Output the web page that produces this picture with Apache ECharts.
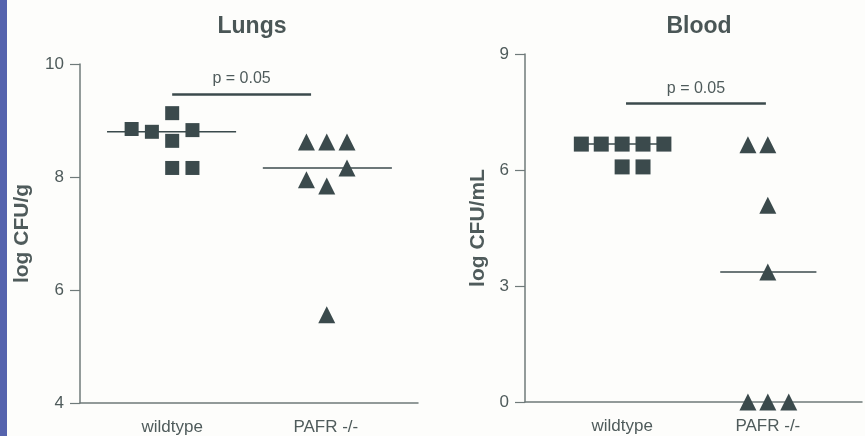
<!DOCTYPE html>
<html><head><meta charset="utf-8">
<script src="https://cdn.jsdelivr.net/npm/echarts@6/dist/echarts.min.js"></script>
<style>html,body{margin:0;padding:0;background:#fdfdfb;}#c{width:865px;height:436px;}
#strip{position:absolute;left:0;top:0;width:7px;height:436px;background:#5563ad;z-index:10;}</style>
</head><body><div id="strip"></div><div id="c"></div>
<script>
// category label positions (x units per panel)
const groupNames = ['wildtype', 'PAFR -/-'];
const lungsGroupX = [3, 8];
const bloodGroupX = [2, 5];

// Lungs: [x, log CFU/g]
const lungsWildtype = [[1.68, 8.85], [2.34, 8.80], [3.0, 9.13], [3.0, 8.64], [3.66, 8.83], [3.0, 8.16], [3.66, 8.16]];
const lungsPafr = [[7.37, 8.62], [8.03, 8.62], [8.69, 8.62], [8.69, 8.16], [7.37, 7.95], [8.03, 7.84], [8.03, 5.56]];
const lungsWildMedian = [[0.88, 8.80], [5.08, 8.80]];
const lungsPafrMedian = [[5.95, 8.16], [10.15, 8.16]];
const lungsPBar = [[3.0, 9.47], [7.52, 9.47]];

// Blood: [x, log CFU/mL]
const bloodWildtype = [[1.16, 6.67], [1.57, 6.67], [2.0, 6.67], [2.43, 6.67], [2.86, 6.67], [2.0, 6.08], [2.43, 6.08]];
const bloodPafr = [[4.59, 6.65], [5.0, 6.65], [5.0, 5.09], [5.0, 3.36], [4.59, 0], [5.0, 0], [5.43, 0]];
const bloodWildMedian = [[1.08, 6.67], [2.96, 6.67]];
const bloodPafrMedian = [[4.02, 3.36], [6.0, 3.36]];
const bloodPBar = [[2.08, 7.73], [4.96, 7.73]];

const pText = 'p = 0.05';
const lungsTicks = {min: 4, max: 10, interval: 2};
const bloodTicks = {min: 0, max: 9, interval: 3};

const ink = '#3b4a4c';
const txt = '#4f5b5b';
const axisCol = '#6f7a7a';
const font = 'Liberation Sans, Arial, sans-serif';

function xAxis(idx, max, groupX, interval) {
  return {
    type: 'value', gridIndex: idx, min: 0, max: max, interval: interval,
    axisLine: {show: true, lineStyle: {color: axisCol, width: 1.5}},
    axisTick: {show: false}, splitLine: {show: false},
    axisLabel: {
      color: txt, fontFamily: font, fontSize: 17, margin: 16,
      showMinLabel: true, showMaxLabel: true,
      formatter: function (v) {
        for (let i = 0; i < groupX.length; i++) if (Math.abs(v - groupX[i]) < 1e-6) return groupNames[i];
        return '';
      }
    }
  };
}
function yAxis(idx, t, name, gap) {
  return {
    type: 'value', gridIndex: idx, min: t.min, max: t.max, interval: t.interval,
    name: name, nameLocation: 'middle', nameGap: gap,
    nameTextStyle: {color: txt, fontFamily: font, fontSize: 21, fontWeight: 'bold'},
    axisLine: {show: true, lineStyle: {color: axisCol, width: 1.5}},
    axisTick: {show: true, length: 10, lineStyle: {color: axisCol, width: 1.2}},
    splitLine: {show: false},
    axisLabel: {color: txt, fontFamily: font, fontSize: 17, margin: 16}
  };
}
function medianLine(idx, data) {
  return {type: 'line', xAxisIndex: idx, yAxisIndex: idx, data: data, symbol: 'none', silent: true,
    lineStyle: {color: ink, width: 1.5}, z: 1};
}
function pBar(idx, data) {
  return {type: 'line', xAxisIndex: idx, yAxisIndex: idx, data: [], symbol: 'none', silent: true, z: 1,
    markLine: {silent: true, symbol: 'none', lineStyle: {color: ink, width: 2.5, type: 'solid'},
      label: {show: true, position: 'middle', formatter: pText, color: txt, fontFamily: font, fontSize: 16, distance: 7},
      data: [[{coord: data[0]}, {coord: data[1]}]]}};
}
function dots(idx, data, sym, size) {
  return {type: 'scatter', xAxisIndex: idx, yAxisIndex: idx, data: data, symbol: sym, symbolSize: size,
    itemStyle: {color: ink, opacity: 1}, z: 3};
}

const chart = echarts.init(document.getElementById('c'));
chart.setOption({
  backgroundColor: '#fdfdfb',
  animation: false,
  title: [
    {text: 'Lungs', left: 247, top: 10, textAlign: 'center', textStyle: {color: '#4a5656', fontFamily: font, fontSize: 23, fontWeight: 'bold'}},
    {text: 'Blood', left: 694, top: 10, textAlign: 'center', textStyle: {color: '#4a5656', fontFamily: font, fontSize: 23, fontWeight: 'bold'}}
  ],
  grid: [
    {left: 80, top: 64, width: 338, height: 339},
    {left: 525, top: 54, width: 340, height: 348}
  ],
  xAxis: [xAxis(0, 11, lungsGroupX, 1), xAxis(1, 340 / 49, bloodGroupX, 1)],
  yAxis: [yAxis(0, lungsTicks, 'log CFU/g', 47), yAxis(1, bloodTicks, 'log CFU/mL', 36)],
  series: [
    medianLine(0, lungsWildMedian), medianLine(0, lungsPafrMedian),
    pBar(0, lungsPBar),
    dots(0, lungsWildtype, 'rect', 14), dots(0, lungsPafr, 'triangle', 17),
    medianLine(1, bloodWildMedian), medianLine(1, bloodPafrMedian),
    pBar(1, bloodPBar),
    dots(1, bloodWildtype, 'rect', 15), dots(1, bloodPafr, 'triangle', 17)
  ]
});
</script></body></html>
